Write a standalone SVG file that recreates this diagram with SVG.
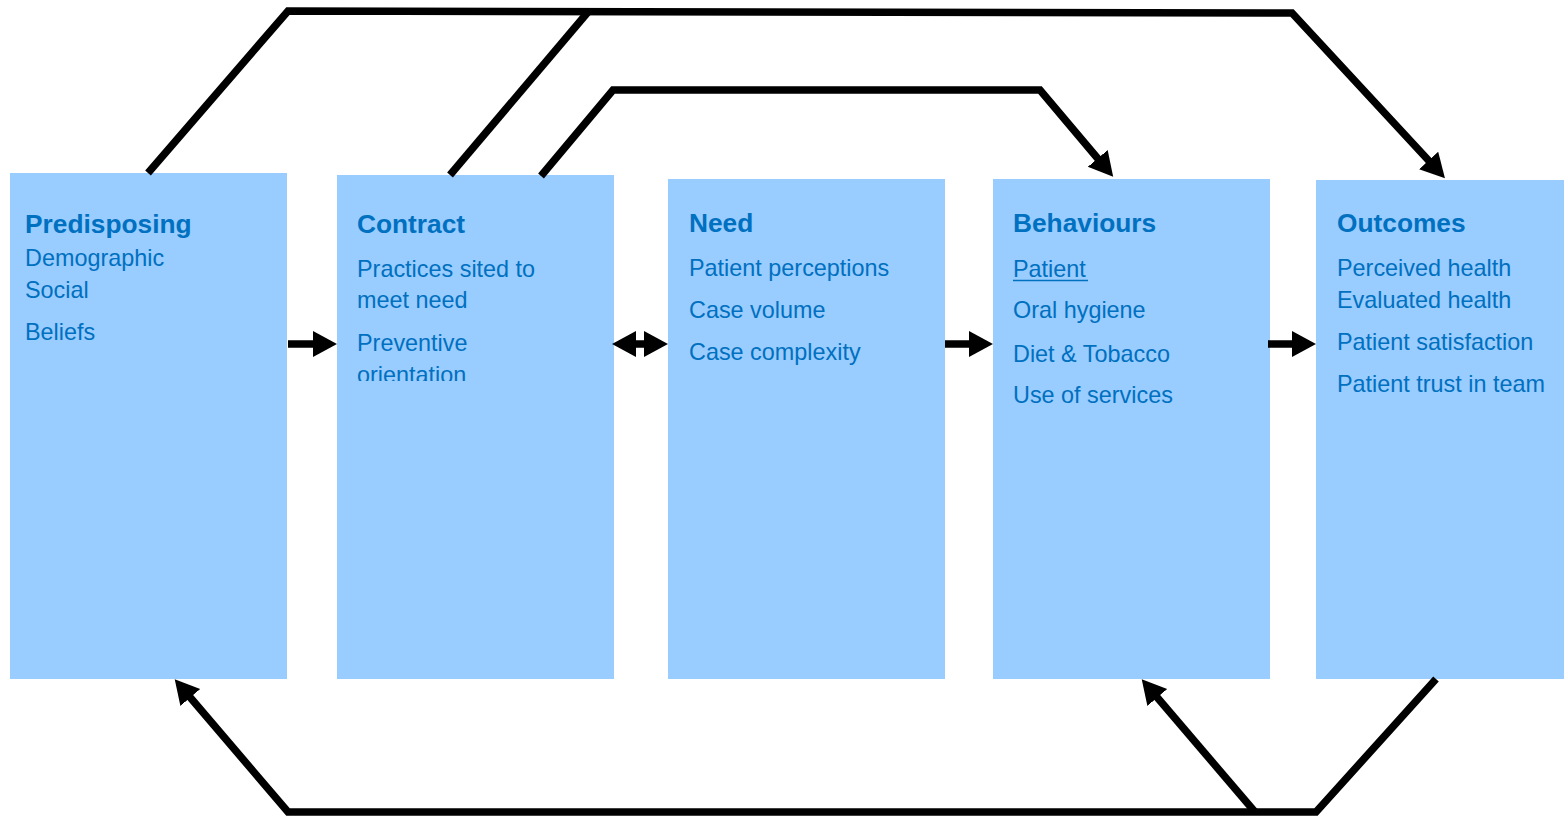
<svg xmlns="http://www.w3.org/2000/svg" width="1564" height="816" viewBox="0 0 1564 816">
  <style>
    .box { fill: #99CCFF; }
    .title { font-family: "Liberation Sans", Arial, sans-serif; font-size: 26.3px; font-weight: bold; fill: #0070C0; }
    .item { font-family: "Liberation Sans", Arial, sans-serif; font-size: 23.4px; fill: #0070C0; }
    .conn { fill: none; stroke: #000; stroke-width: 7.5; stroke-linejoin: miter; }
  </style>
  <defs>
    <marker id="head" markerUnits="userSpaceOnUse" markerWidth="28" markerHeight="28" refX="2" refY="13" orient="auto-start-reverse" viewBox="0 0 28 28">
      <path d="M0,0 L24,13 L0,26 z" fill="#000"/>
    </marker>
    <clipPath id="contractClip">
      <rect x="337" y="175" width="277" height="206"/>
    </clipPath>
  </defs>

  <rect width="1564" height="816" fill="#fff"/>

  <g id="predisposing">
    <rect class="box" x="10" y="173" width="277" height="506"/>
    <text class="title" x="25" y="233">Predisposing</text>
    <text class="item" x="25" y="266">Demographic</text>
    <text class="item" x="25" y="298">Social</text>
    <text class="item" x="25" y="340">Beliefs</text>
  </g>

  <g id="contract">
    <rect class="box" x="337" y="175" width="277" height="504"/>
    <text class="title" x="357" y="233">Contract</text>
    <g clip-path="url(#contractClip)">
      <text class="item" x="357" y="277">Practices sited to</text>
      <text class="item" x="357" y="308">meet need</text>
      <text class="item" x="357" y="351">Preventive</text>
      <text class="item" x="357" y="383">orientation</text>
    </g>
  </g>

  <g id="need">
    <rect class="box" x="668" y="179" width="277" height="500"/>
    <text class="title" x="689" y="232">Need</text>
    <text class="item" x="689" y="276">Patient perceptions</text>
    <text class="item" x="689" y="318">Case volume</text>
    <text class="item" x="689" y="360">Case complexity</text>
  </g>

  <g id="behaviours">
    <rect class="box" x="993" y="179" width="277" height="500"/>
    <text class="title" x="1013" y="232">Behaviours</text>
    <text class="item" x="1013" y="277">Patient</text>
    <line x1="1013" y1="280.5" x2="1088" y2="280.5" stroke="#0070C0" stroke-width="1.6"/>
    <text class="item" x="1013" y="318">Oral hygiene</text>
    <text class="item" x="1013" y="362">Diet &amp; Tobacco</text>
    <text class="item" x="1013" y="403">Use of services</text>
  </g>

  <g id="outcomes">
    <rect class="box" x="1316" y="180" width="248" height="499"/>
    <text class="title" x="1337" y="232">Outcomes</text>
    <text class="item" x="1337" y="276">Perceived health</text>
    <text class="item" x="1337" y="308">Evaluated health</text>
    <text class="item" x="1337" y="350">Patient satisfaction</text>
    <text class="item" x="1337" y="392">Patient trust in team</text>
  </g>

  <g id="connectors">
    <!-- straight links between neighbouring boxes -->
    <line class="conn" x1="288" y1="344" x2="315" y2="344" marker-end="url(#head)"/>
    <line class="conn" x1="634" y1="344" x2="646" y2="344" marker-start="url(#head)" marker-end="url(#head)"/>
    <line class="conn" x1="945" y1="344" x2="971" y2="344" marker-end="url(#head)"/>
    <line class="conn" x1="1268" y1="344" x2="1294" y2="344" marker-end="url(#head)"/>

    <!-- outer loop over the top into Outcomes -->
    <path class="conn" d="M148,173 L288,11 L1292,13 L1430,162" marker-end="url(#head)"/>
    <path class="conn" d="M450,175 L588,12"/>

    <!-- Contract over the top into Behaviours -->
    <path class="conn" d="M541,176 L613,90 L1040,90 L1099,160" marker-end="url(#head)"/>

    <!-- feedback along the bottom -->
    <path class="conn" d="M1436,679 L1316,812 L288,812 L189,696" marker-end="url(#head)"/>
    <path class="conn" d="M1255,812 L1156,696" marker-end="url(#head)"/>
  </g>
</svg>
